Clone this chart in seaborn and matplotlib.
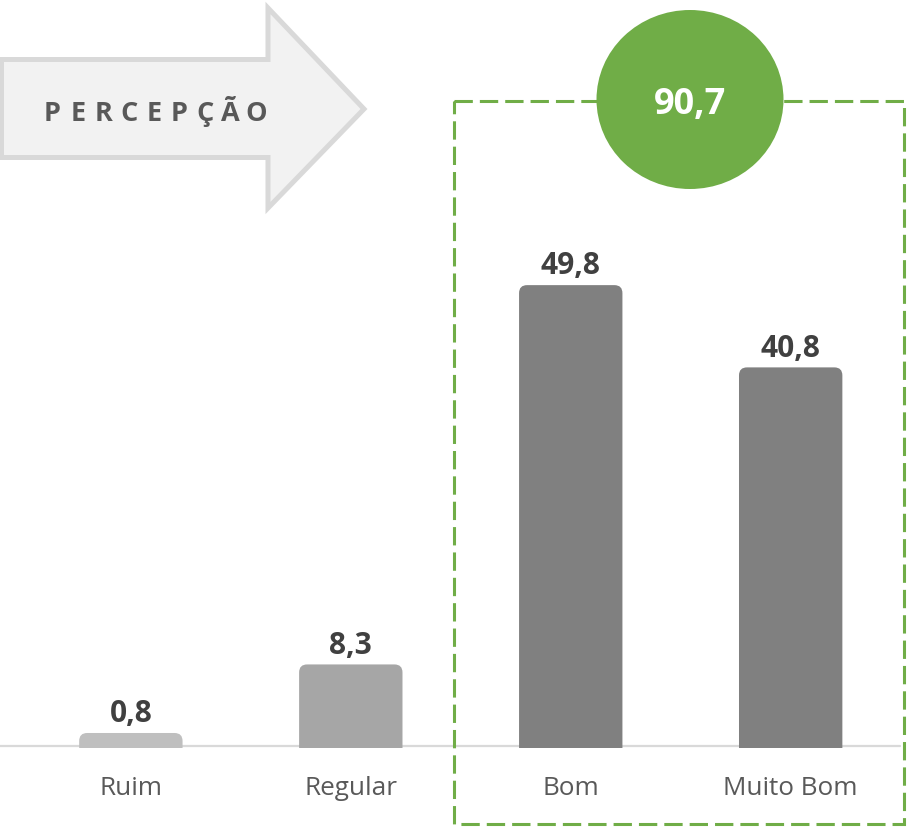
import matplotlib
matplotlib.use("Agg")
import matplotlib.pyplot as plt
import seaborn as sns
import pandas as pd
from matplotlib.patches import FancyBboxPatch, Polygon, Ellipse, Rectangle

# ---- data ----
categories = ["Ruim", "Regular", "Bom", "Muito Bom"]
values = [0.8, 8.3, 49.8, 40.8]
value_labels = ["0,8", "8,3", "49,8", "40,8"]
bar_colors = ["#bfbfbf", "#a6a6a6", "#808080", "#808080"]
total_label = "90,7"
title_text = "PERCEPÇÃO"

sns.set_theme(style="white")
plt.rcParams["font.family"] = ["Open Sans", "DejaVu Sans"]

W, H = 910, 829
fig = plt.figure(figsize=(W / 100, H / 100), dpi=100)
fig.patch.set_facecolor("white")

# main axes (pixel layout)
base_px = 749.0
zero_px = 741.3
px_per_unit = 9.14
ax = fig.add_axes([0, (H - base_px) / H, 1, base_px / H])
df = pd.DataFrame({"cat": categories, "val": values})
sns.barplot(data=df, x="cat", y="val", hue="cat", palette=bar_colors,
            width=0.47, legend=False, ax=ax, saturation=1)
ax.set_xlim(-0.595, 3.5425)
ax.set_ylim(-(base_px - zero_px) / px_per_unit, zero_px / px_per_unit)
for s in ax.spines.values():
    s.set_visible(False)
ax.set_yticks([])
ax.set_xlabel("")
ax.set_ylabel("")
ax.tick_params(axis="x", length=0, pad=19.8, labelsize=18.8, labelcolor="#595959")

# baseline
ax.axhline(-(747 - zero_px) / px_per_unit, xmin=0, xmax=900 / 910,
           color="#d9d9d9", lw=1.6, zorder=1)

# rounded-top bars
x_px_per_unit = 219.9
aspect = x_px_per_unit / px_per_unit
r = 8 / x_px_per_unit
ybot = ax.get_ylim()[0] - 3
for p, lab in zip(list(ax.patches), value_labels):
    x0, w, h = p.get_x(), p.get_width(), p.get_height()
    fc = p.get_facecolor()
    p.set_visible(False)
    fb = FancyBboxPatch((x0, ybot), w, h - ybot,
                        boxstyle=f"round,pad=0,rounding_size={r}",
                        mutation_aspect=aspect, facecolor=fc, edgecolor="none",
                        zorder=2)
    ax.add_patch(fb)
    ax.annotate(lab, (x0 + w / 2, h), xytext=(0, 8.4), textcoords="offset points",
                ha="center", va="baseline", fontsize=21.5, fontweight="bold",
                color="#404040")

# overlay axes in pixel coordinates for decorations
ov = fig.add_axes([0, 0, 1, 1], zorder=5)
ov.set_xlim(0, W)
ov.set_ylim(H, 0)
ov.axis("off")
ov.patch.set_visible(False)

arrow = Polygon([(1.5, 60.5), (268, 60.5), (268, 9), (364, 110), (268, 209),
                 (268, 158.5), (1.5, 158.5)], closed=True,
                facecolor="#f2f2f2", edgecolor="#d9d9d9", lw=3.6, joinstyle="miter")
ov.add_patch(arrow)
pitch = 25.4
for i, ch in enumerate(title_text):
    ov.text(52.5 + i * pitch, 120.5, ch, ha="center", va="baseline",
            fontsize=19.5, fontweight="bold", color="#595959")

rect = Rectangle((453.5, 102.3), 904.3 - 453.5, 825 - 102.3, fill=False,
                 edgecolor="#70ad47", lw=2.2, linestyle=(0, (6, 2.3)))
ov.add_patch(rect)
circ = Ellipse((690, 100.5), 187, 179, facecolor="#70ad47", edgecolor="none")
ov.add_patch(circ)
ov.text(690, 113.8, total_label, ha="center", va="baseline", fontsize=26,
        fontweight="bold", color="white")

fig.savefig("out.png", dpi=100)
